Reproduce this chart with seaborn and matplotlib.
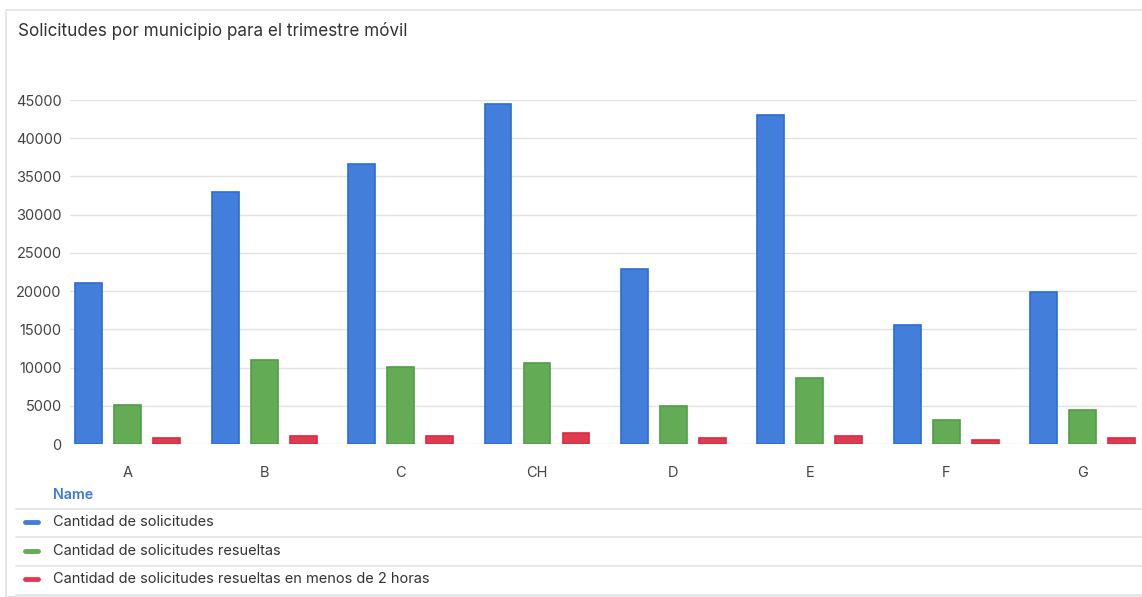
import matplotlib
matplotlib.use("Agg")
import matplotlib.pyplot as plt
import seaborn as sns
import pandas as pd
from matplotlib.lines import Line2D
from matplotlib.patches import Rectangle

municipios = ["A", "B", "C", "CH", "D", "E", "F", "G"]
cantidad = [21000, 33000, 36600, 44500, 22900, 43100, 15600, 19900]
resueltas = [5150, 11000, 10100, 10600, 5000, 8600, 3100, 4400]
menos_2h = [800, 1100, 1100, 1500, 750, 1100, 500, 800]
series = ["Cantidad de solicitudes",
          "Cantidad de solicitudes resueltas",
          "Cantidad de solicitudes resueltas en menos de 2 horas"]
colores = ["#437edb", "#64ab56", "#e03a50"]
bordes = ["#2a6cd8", "#4fa046", "#d92b41"]
y_ticks = [0, 5000, 10000, 15000, 20000, 25000, 30000, 35000, 40000, 45000]
titulo = "Solicitudes por municipio para el trimestre móvil"

df = pd.DataFrame({
    "Municipio": municipios * 3,
    "Valor": cantidad + resueltas + menos_2h,
    "Serie": [series[0]] * 8 + [series[1]] * 8 + [series[2]] * 8,
})

sns.set_theme(style="white")
plt.rcParams["font.family"] = ["Inter", "DejaVu Sans"]

W, H = 1142, 597
fig = plt.figure(figsize=(W / 100, H / 100), dpi=100)
fig.patch.set_facecolor("white")

# card border
fig.add_artist(Rectangle((6 / W, 0), (W + 10) / W, (H - 10) / H,
                         transform=fig.transFigure, fill=False,
                         edgecolor="#e2e2e2", linewidth=1.2))

ax = fig.add_axes([70 / W, (H - 444) / H, (1137 - 70) / W, (444 - 100) / H])
sns.barplot(data=df, x="Municipio", y="Valor", hue="Serie",
            palette=colores, width=0.858, gap=0.31, saturation=1,
            order=municipios, hue_order=series, legend=False, ax=ax)

for cont, bc in zip(ax.containers, bordes):
    for p in cont:
        p.set_edgecolor(bc)
        p.set_linewidth(1.2)

ax.set_xlim(-0.425, 7.40)
ax.set_ylim(0, 45000)
ax.set_yticks(y_ticks)
ax.set_yticklabels([str(v) for v in y_ticks])
ax.set_xlabel("")
ax.set_ylabel("")
for s in ax.spines.values():
    s.set_visible(False)
ax.grid(axis="y", color="#e3e3e3", linewidth=1)
ax.set_axisbelow(True)
ax.tick_params(axis="y", length=0, pad=6, labelsize=10.5, labelcolor="#444444")
ax.tick_params(axis="x", length=0, pad=16, labelsize=10.5, labelcolor="#444444")

fig.text(18 / W, 1 - 30.5 / H, titulo, fontsize=12.3, color="#333333",
         va="center", ha="left")

# legend
fig.text(53 / W, 1 - 495 / H, "Name", fontsize=10.3, color="#3b78e7",
         fontweight="semibold", va="center", ha="left")
seps = [509, 537, 566, 595]
for yy in seps:
    fig.add_artist(Line2D([16 / W, 1.0], [1 - yy / H, 1 - yy / H],
                          transform=fig.transFigure, color="#e3e3e3", linewidth=1.2))
for i, (name, c) in enumerate(zip(series, colores)):
    yc = 1 - (522 + i * 28.7) / H
    fig.add_artist(Line2D([25 / W, 38 / W], [yc, yc], transform=fig.transFigure,
                          color=c, linewidth=3.5, solid_capstyle="round"))
    fig.text(53 / W, yc, name, fontsize=10.5, color="#333333", va="center", ha="left")

fig.savefig("out.png", dpi=100, facecolor="white")
